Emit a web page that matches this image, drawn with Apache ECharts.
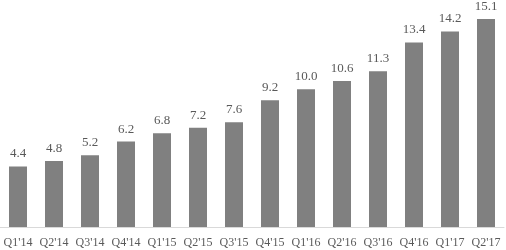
<!DOCTYPE html>
<html><head><meta charset="utf-8">
<script src="https://cdn.jsdelivr.net/npm/echarts@6/dist/echarts.min.js"></script>
<style>html,body{margin:0;padding:0;background:#fff}#c{width:506px;height:250px}</style>
</head><body><div id="c"></div>
<script>
const categories = ["Q1'14","Q2'14","Q3'14","Q4'14","Q1'15","Q2'15","Q3'15","Q4'15","Q1'16","Q2'16","Q3'16","Q4'16","Q1'17","Q2'17"];
const values = [4.4,4.8,5.2,6.2,6.8,7.2,7.6,9.2,10.0,10.6,11.3,13.4,14.2,15.1];
const chart = echarts.init(document.getElementById('c'), null, {renderer:'canvas'});
chart.setOption({
  animation:false,
  grid:{left:0,right:2,top:19,bottom:23,containLabel:false},
  xAxis:{type:'category',data:categories,
    axisLine:{lineStyle:{color:'#d9d9d9',width:1}},
    axisTick:{show:false},
    axisLabel:{color:'#595959',fontFamily:'Liberation Serif',fontSize:12,margin:10,interval:0}},
  yAxis:{type:'value',min:0,max:15.1,show:false,splitLine:{show:false}},
  series:[{type:'bar',data:values,barWidth:'50%',
    itemStyle:{color:'#808080'},
    label:{show:true,position:'top',distance:6,color:'#595959',fontFamily:'Liberation Serif',fontSize:13,
      formatter:p=>p.value.toFixed(1)}}]
});
</script></body></html>
